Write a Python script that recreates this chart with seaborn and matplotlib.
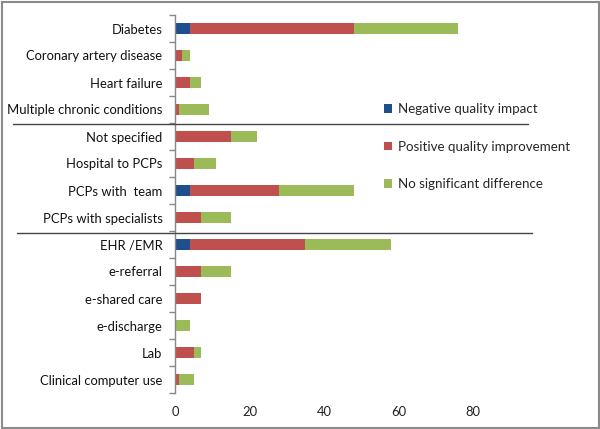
import matplotlib
matplotlib.use("Agg")
import matplotlib.pyplot as plt
from matplotlib.lines import Line2D
from matplotlib.patches import Patch, Rectangle
import seaborn as sns
import pandas as pd
import numpy as np

categories = ["Diabetes", "Coronary artery disease", "Heart failure", "Multiple chronic conditions",
              "Not specified", "Hospital to PCPs", "PCPs with  team", "PCPs with specialists",
              "EHR /EMR", "e-referral", "e-shared care", "e-discharge", "Lab", "Clinical computer use"]
negative = [4, 0, 0, 0, 0, 0, 4, 0, 4, 0, 0, 0, 0, 0]
positive = [44, 2, 4, 1, 15, 5, 24, 7, 31, 7, 7, 0, 5, 1]
no_diff = [28, 2, 3, 8, 7, 6, 20, 8, 23, 8, 0, 4, 2, 4]
xticks = [0, 20, 40, 60, 80]

series_names = ["Negative quality impact", "Positive quality improvement", "No significant difference"]
colors = ["#1F4E8C", "#C0504D", "#9BBB59"]

sns.set_theme(style="white")
plt.rcParams['font.family'] = ['Lato', 'DejaVu Sans']

df = pd.DataFrame({"cat": categories, "neg": negative, "pos": positive, "nd": no_diff})
df["c1"] = df["neg"]
df["c2"] = df["neg"] + df["pos"]
df["c3"] = df["c2"] + df["nd"]

fig = plt.figure(figsize=(6.0, 4.29), dpi=100)
W, H = 600, 429
ax = fig.add_axes([175 / W, 1 - 393 / H, (473 - 175) / W, (393 - 15) / H])

fs = 9.4
bw = 0.42
sns.barplot(data=df, x="c3", y="cat", orient="h", color=colors[2], width=bw, ax=ax, saturation=1, linewidth=0)
sns.barplot(data=df, x="c2", y="cat", orient="h", color=colors[1], width=bw, ax=ax, saturation=1, linewidth=0)
sns.barplot(data=df, x="c1", y="cat", orient="h", color=colors[0], width=bw, ax=ax, saturation=1, linewidth=0)

ax.set_xlim(0, 80)
ax.set_ylim(len(categories) - 0.5, -0.5)
ax.set_xlabel("")
ax.set_ylabel("")
ax.set_xticks(xticks)
ax.set_xticklabels([str(t) for t in xticks], fontsize=fs, color="#222222")
ax.tick_params(axis="x", length=0, pad=9)
ax.set_yticks(range(len(categories)))
ax.set_yticklabels(categories, fontsize=fs, color="#111111")
ax.tick_params(axis="y", which="major", length=0, pad=9)
ax.set_yticks(np.arange(-0.5, len(categories), 1.0), minor=True)
ax.tick_params(axis="y", which="minor", length=4, width=1, color="#888888", direction="out", left=True)
for s in ["top", "right", "bottom"]:
    ax.spines[s].set_visible(False)
ax.spines["left"].set_color("#888888")
ax.spines["left"].set_linewidth(1)
ax.grid(False)

handles = [Patch(facecolor=c, edgecolor="none") for c in colors]
leg = fig.legend(handles, series_names, loc="upper left", bbox_to_anchor=(379 / W, 1 - 98 / H),
                 frameon=False, fontsize=9.6, handlelength=0.6, handleheight=0.6,
                 handletextpad=0.4, labelspacing=1.9, borderaxespad=0)

# separator lines
fig.add_artist(Line2D([13 / W, 528 / W], [1 - 124 / H, 1 - 124 / H], color="#444444", lw=1))
fig.add_artist(Line2D([17 / W, 532 / W], [1 - 233 / H, 1 - 233 / H], color="#444444", lw=1))

# chart border
fig.add_artist(Rectangle((1.5 / W, 1.5 / H), (W - 3) / W, (H - 3) / H, fill=False,
                         edgecolor="#8a8a8a", lw=1.5, transform=fig.transFigure))

fig.savefig("out.png", dpi=100)
